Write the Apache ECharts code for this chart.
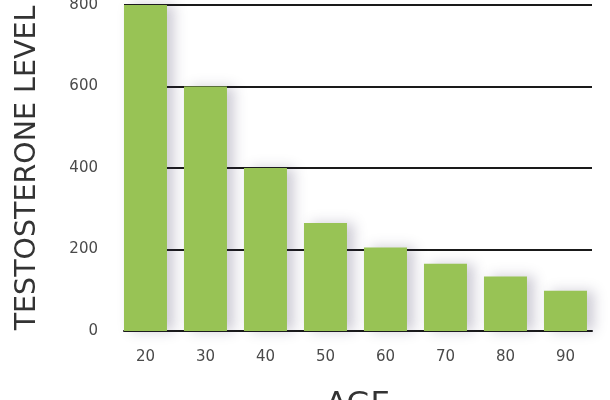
<!DOCTYPE html>
<html><head><meta charset="utf-8">
<script src="https://cdn.jsdelivr.net/npm/echarts@6/dist/echarts.min.js"></script>
<style>html,body{margin:0;padding:0;background:#fff}#c{width:610px;height:400px}</style>
</head><body><div id="c"></div>
<script>
const ages = [20, 30, 40, 50, 60, 70, 80, 90];
const levels = [800, 600, 400, 265, 205, 165, 134, 99];
const yTicks = [0, 200, 400, 600, 800];

const chart = echarts.init(document.getElementById('c'), null, {renderer: 'canvas'});
chart.setOption({
  animation: false,
  backgroundColor: '#fff',
  grid: {left: 124, right: 18, top: 5, bottom: 69, containLabel: false, outerBoundsMode: 'none'},
  xAxis: {
    type: 'value', min: 16.42, max: 94.42,
    name: 'AGE', nameLocation: 'middle', nameGap: 58,
    nameTextStyle: {fontFamily: 'DejaVu Sans', fontSize: 31, color: '#333'},
    axisLine: {show: true, onZero: false, lineStyle: {color: '#1a1a1a', width: 2}},
    axisTick: {show: false},
    splitLine: {show: false},
    axisLabel: {customValues: ages, margin: 19, fontFamily: 'DejaVu Sans', fontSize: 15, color: '#4a4a4a'}
  },
  yAxis: {
    type: 'value', min: 0, max: 800, interval: 200,
    name: 'TESTOSTERONE LEVEL', nameLocation: 'middle', nameGap: 82, nameRotate: 90,
    nameTextStyle: {fontFamily: 'DejaVu Sans', fontSize: 28.5, color: '#333'},
    axisLine: {show: false}, axisTick: {show: false},
    splitLine: {show: true, lineStyle: {color: '#1a1a1a', width: 2}},
    axisLabel: {customValues: yTicks, margin: 26, fontFamily: 'DejaVu Sans', fontSize: 15, color: '#4a4a4a'}
  },
  series: [{
    type: 'bar', barWidth: 43,
    data: ages.map((a, i) => [a, levels[i]]),
    itemStyle: {color: '#98c355', shadowColor: 'rgba(60,50,90,0.25)', shadowBlur: 12, shadowOffsetX: 7, shadowOffsetY: 0}
  }]
});
</script></body></html>
